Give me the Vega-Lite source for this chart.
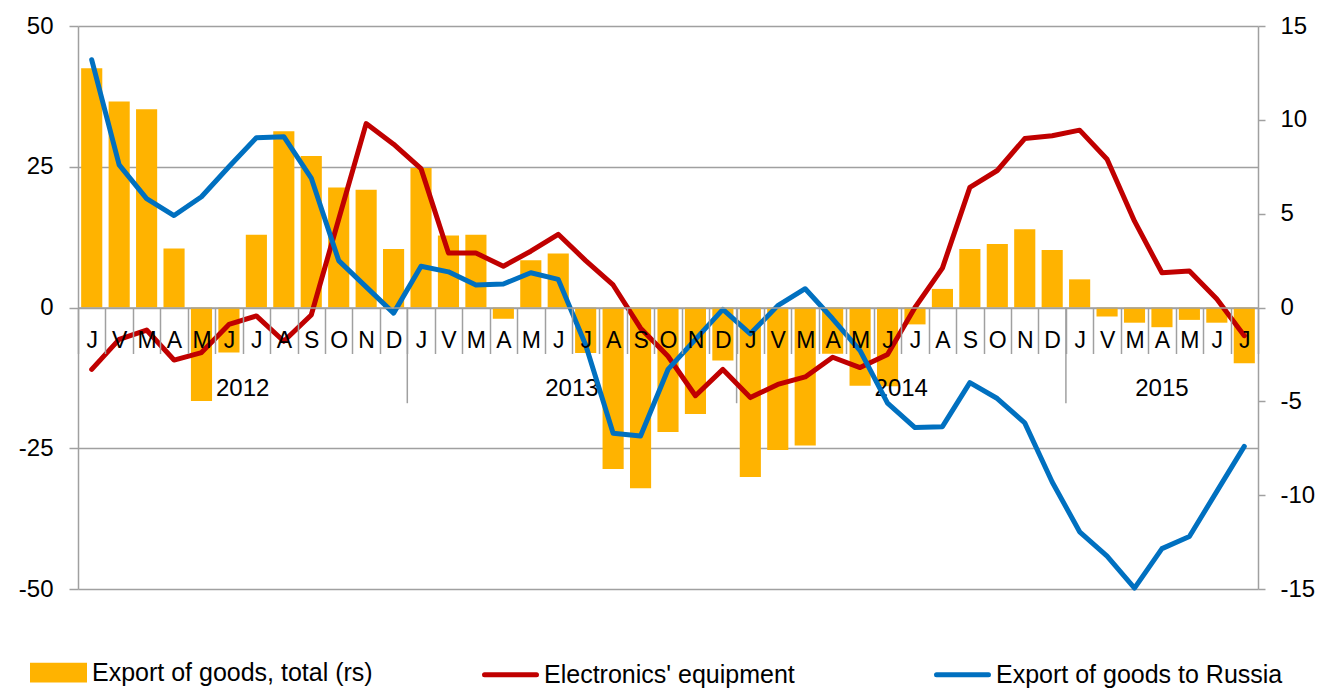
{
  "$schema": "https://vega.github.io/schema/vega-lite/v6.json",
  "width": 1180,
  "height": 563,
  "autosize": {"type": "none"},
  "padding": {"left": 78, "top": 26, "right": 64, "bottom": 99},
  "config": {
    "font": "Liberation Sans",
    "view": {"stroke": null},
    "legend": {
      "orient": "none",
      "legendX": -48,
      "legendY": 618,
      "direction": "horizontal",
      "labelFontSize": 25,
      "labelColor": "#000000",
      "labelLimit": 600,
      "labelOffset": 5,
      "symbolSize": 2704,
      "columnPadding": 95,
      "gridAlign": "all",
      "symbolStrokeWidth": 5
    }
  },
  "datasets": {
    "main": [
      {"d": "2012-01", "total": 42.5, "elec": -3.3, "rus": 13.2},
      {"d": "2012-02", "total": 36.6, "elec": -1.7, "rus": 7.6},
      {"d": "2012-03", "total": 35.2, "elec": -1.2, "rus": 5.8},
      {"d": "2012-04", "total": 10.5, "elec": -2.8, "rus": 4.9},
      {"d": "2012-05", "total": -16.6, "elec": -2.4, "rus": 5.9},
      {"d": "2012-06", "total": -8.0, "elec": -0.9, "rus": 7.5},
      {"d": "2012-07", "total": 12.9, "elec": -0.45, "rus": 9.05},
      {"d": "2012-08", "total": 31.3, "elec": -1.8, "rus": 9.1},
      {"d": "2012-09", "total": 26.9, "elec": -0.4, "rus": 6.9},
      {"d": "2012-10", "total": 21.3, "elec": 4.7, "rus": 2.5},
      {"d": "2012-11", "total": 20.9, "elec": 9.8, "rus": 1.1},
      {"d": "2012-12", "total": 10.4, "elec": 8.7, "rus": -0.3},
      {"d": "2013-01", "total": 24.8, "elec": 7.4, "rus": 2.2},
      {"d": "2013-02", "total": 12.8, "elec": 2.9, "rus": 1.9},
      {"d": "2013-03", "total": 12.9, "elec": 2.9, "rus": 1.2},
      {"d": "2013-04", "total": -2.0, "elec": 2.2, "rus": 1.25},
      {"d": "2013-05", "total": 8.4, "elec": 3.0, "rus": 1.85},
      {"d": "2013-06", "total": 9.6, "elec": 3.9, "rus": 1.5},
      {"d": "2013-07", "total": -8.1, "elec": 2.5, "rus": -2.0},
      {"d": "2013-08", "total": -28.7, "elec": 1.2, "rus": -6.7},
      {"d": "2013-09", "total": -32.1, "elec": -1.1, "rus": -6.85},
      {"d": "2013-10", "total": -22.1, "elec": -2.6, "rus": -3.3},
      {"d": "2013-11", "total": -18.9, "elec": -4.7, "rus": -1.7},
      {"d": "2013-12", "total": -9.4, "elec": -3.3, "rus": -0.1},
      {"d": "2014-01", "total": -30.1, "elec": -4.8, "rus": -1.4},
      {"d": "2014-02", "total": -25.3, "elec": -4.1, "rus": 0.1},
      {"d": "2014-03", "total": -24.5, "elec": -3.7, "rus": 1.0},
      {"d": "2014-04", "total": -8.2, "elec": -2.65, "rus": -0.6},
      {"d": "2014-05", "total": -13.9, "elec": -3.2, "rus": -2.3},
      {"d": "2014-06", "total": -14.0, "elec": -2.5, "rus": -5.1},
      {"d": "2014-07", "total": -3.0, "elec": 0.0, "rus": -6.4},
      {"d": "2014-08", "total": 3.3, "elec": 2.1, "rus": -6.35},
      {"d": "2014-09", "total": 10.4, "elec": 6.4, "rus": -4.0},
      {"d": "2014-10", "total": 11.3, "elec": 7.3, "rus": -4.85},
      {"d": "2014-11", "total": 13.9, "elec": 9.0, "rus": -6.15},
      {"d": "2014-12", "total": 10.2, "elec": 9.15, "rus": -9.3},
      {"d": "2015-01", "total": 5.0, "elec": 9.45, "rus": -11.95},
      {"d": "2015-02", "total": -1.6, "elec": 7.9, "rus": -13.25},
      {"d": "2015-03", "total": -2.7, "elec": 4.6, "rus": -14.95},
      {"d": "2015-04", "total": -3.5, "elec": 1.85, "rus": -12.85},
      {"d": "2015-05", "total": -2.2, "elec": 1.95, "rus": -12.2},
      {"d": "2015-06", "total": -2.7, "elec": 0.45, "rus": -9.8},
      {"d": "2015-07", "total": -9.9, "elec": -1.5, "rus": -7.4}
    ],
    "years": [
      {"d": "2012-07", "year": "2012"},
      {"d": "2013-07", "year": "2013"},
      {"d": "2014-07", "year": "2014"}
    ],
    "years2": [
      {"d": "2015-04", "year": "2015"}
    ],
    "seps": [
      {"d": "2013-01"},
      {"d": "2014-01"},
      {"d": "2015-01"}
    ]
  },
  "layer": [
    {
      "data": {"name": "main"},
      "mark": {"type": "bar", "width": {"band": 0.77}},
      "encoding": {
        "x": {
          "field": "d",
          "type": "ordinal",
          "scale": {"type": "band", "paddingInner": 0, "paddingOuter": 0},
          "axis": {
            "title": null,
            "orient": "bottom",
            "offset": -281.5,
            "zindex": 1,
            "grid": false,
            "domain": true,
            "domainColor": "#A0A0A0",
            "domainWidth": 1.5,
            "ticks": true,
            "tickBand": "extent",
            "tickSize": 46,
            "tickColor": "#A0A0A0",
            "tickWidth": 1.5,
            "labelExpr": "isString(datum.value) && length(datum.value) >= 7 ? ['J','V','M','A','M','J','J','A','S','O','N','D'][toNumber(substring(datum.value,5,7))-1] : ''",
            "labelAngle": 0,
            "labelFontSize": 23,
            "labelColor": "#000000",
            "labelPadding": -24,
            "labelOverlap": false,
            "labelBound": false,
            "labelFlush": false
          }
        },
        "y": {
          "field": "total",
          "type": "quantitative",
          "scale": {"domain": [-50, 50], "nice": false},
          "axis": {
            "title": null,
            "orient": "left",
            "values": [-50, -25, 0, 25, 50],
            "labelExpr": "toString(datum.value)",
            "grid": true,
            "gridColor": "#A0A0A0",
            "gridWidth": 1.5,
            "domain": true,
            "domainColor": "#A0A0A0",
            "domainWidth": 1.5,
            "ticks": true,
            "tickSize": 9,
            "tickColor": "#A0A0A0",
            "tickWidth": 1.5,
            "labelFontSize": 24,
            "labelColor": "#000000",
            "labelPadding": 16
          }
        },
        "color": {
          "datum": "Export of goods, total (rs)",
          "scale": {
            "domain": ["Export of goods, total (rs)", "Electronics' equipment", "Export of goods to Russia"],
            "range": ["#FFB300", "#C00000", "#0070C0"]
          },
          "legend": {
            "title": null,
            "encode": {
              "symbols": {
                "update": {
                  "shape": {"signal": "datum.value === 'Export of goods, total (rs)' ? 'M-1,-0.28H1V0.28H-1Z' : 'stroke'"},
                  "fill": {"signal": "datum.value === 'Export of goods, total (rs)' ? '#FFB300' : 'transparent'"},
                  "stroke": {"signal": "datum.value === 'Export of goods, total (rs)' ? 'transparent' : (datum.value === 'Export of goods to Russia' ? '#0070C0' : '#C00000')"},
                  "strokeWidth": {"value": 5},
                  "strokeCap": {"value": "round"},
                  "opacity": {"value": 1}
                }
              }
            }
          }
        }
      }
    },
    {
      "data": {"name": "seps"},
      "mark": {"type": "rule", "color": "#A0A0A0", "strokeWidth": 1.5},
      "encoding": {
        "x": {"field": "d", "type": "ordinal", "bandPosition": 0, "axis": null},
        "y": {"datum": 0, "type": "quantitative", "scale": {"domain": [-50, 50], "nice": false}, "axis": null},
        "y2": {"datum": -17}
      }
    },
    {
      "data": {"name": "years"},
      "mark": {"type": "text", "fontSize": 24, "align": "center", "baseline": "alphabetic", "color": "#000000"},
      "encoding": {
        "x": {"field": "d", "type": "ordinal", "bandPosition": 0, "axis": null},
        "y": {"datum": -15.7, "type": "quantitative", "scale": {"domain": [-50, 50], "nice": false}, "axis": null},
        "text": {"field": "year"}
      }
    },
    {
      "data": {"name": "years2"},
      "mark": {"type": "text", "fontSize": 24, "align": "center", "baseline": "alphabetic", "color": "#000000"},
      "encoding": {
        "x": {"field": "d", "type": "ordinal", "axis": null},
        "y": {"datum": -15.7, "type": "quantitative", "scale": {"domain": [-50, 50], "nice": false}, "axis": null},
        "text": {"field": "year"}
      }
    },
    {
      "data": {"name": "main"},
      "mark": {"type": "line", "strokeWidth": 5, "strokeJoin": "round", "strokeCap": "round"},
      "encoding": {
        "x": {"field": "d", "type": "ordinal", "axis": null},
        "y": {
          "field": "elec",
          "type": "quantitative",
          "scale": {"domain": [-15, 15], "nice": false},
          "axis": {
            "title": null,
            "orient": "right",
            "values": [-15, -10, -5, 0, 5, 10, 15],
            "labelExpr": "toString(datum.value)",
            "grid": false,
            "domain": true,
            "domainColor": "#A0A0A0",
            "domainWidth": 1.5,
            "ticks": true,
            "tickSize": 7,
            "tickColor": "#A0A0A0",
            "tickWidth": 1.5,
            "labelFontSize": 24,
            "labelColor": "#000000",
            "labelPadding": 15
          }
        },
        "color": {"datum": "Electronics' equipment"}
      }
    },
    {
      "data": {"name": "main"},
      "mark": {"type": "line", "strokeWidth": 5, "strokeJoin": "round", "strokeCap": "round"},
      "encoding": {
        "x": {"field": "d", "type": "ordinal", "axis": null},
        "y": {"field": "rus", "type": "quantitative", "scale": {"domain": [-15, 15], "nice": false}, "axis": null},
        "color": {"datum": "Export of goods to Russia"}
      }
    }
  ],
  "resolve": {"scale": {"y": "independent"}, "axis": {"x": "independent", "y": "independent"}}
}
